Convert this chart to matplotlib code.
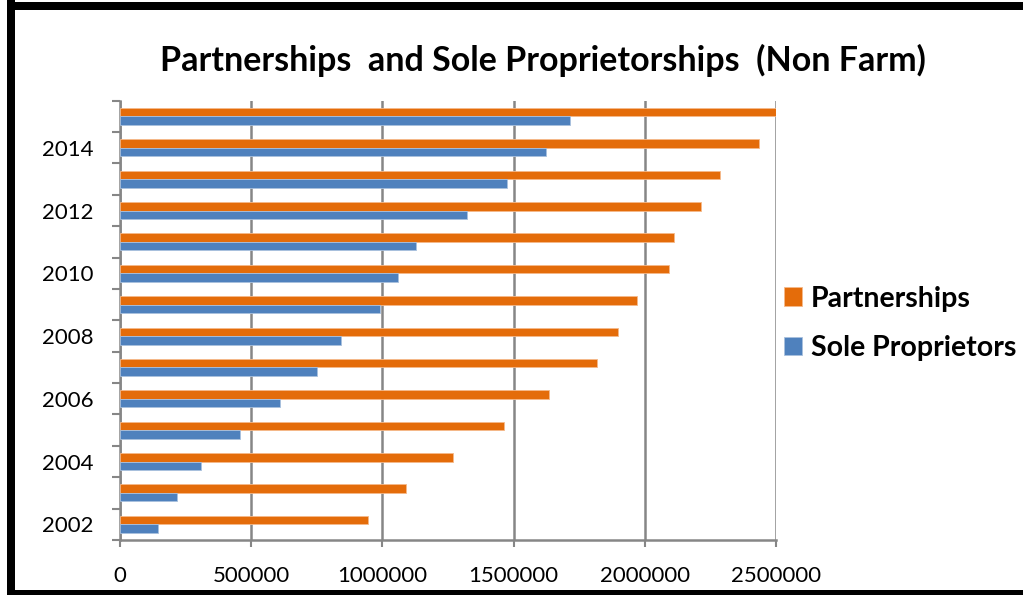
import numpy as np
import matplotlib
matplotlib.use("Agg")
import matplotlib.pyplot as plt
from matplotlib.patches import Rectangle

plt.rcParams["font.family"] = ["Lato", "DejaVu Sans"]

YEARS = list(range(2002, 2016))
PARTNERSHIPS = [944000, 1090000, 1269000, 1463000, 1634000, 1816000, 1896000,
                1969000, 2092000, 2111000, 2215000, 2288000, 2434000, 2511000]
SOLE_PROPRIETORS = [145000, 218000, 308000, 457000, 608000, 750000, 842000,
                    991000, 1060000, 1128000, 1322000, 1475000, 1622000, 1714000]
XTICKS = [0, 500000, 1000000, 1500000, 2000000, 2500000]

ORANGE = "#E46C0A"
BLUE = "#4F81BD"
GREY = "#868686"

fig = plt.figure(figsize=(10.23, 5.95), dpi=100)
ax = fig.add_axes([0.1173, 0.0924, 0.6413, 0.7384])

pos = np.arange(len(YEARS))
bar_h = 0.27
ax.barh(pos + bar_h / 2, PARTNERSHIPS, height=bar_h, color=ORANGE,
        edgecolor="#F5B98A", linewidth=0.6, label="Partnerships", zorder=3)
ax.barh(pos - bar_h / 2, SOLE_PROPRIETORS, height=bar_h, color=BLUE,
        edgecolor="#A9C1DE", linewidth=0.6, label="Sole Proprietors", zorder=3)

ax.set_xlim(0, 2500000)
ax.set_ylim(-0.5, len(YEARS) - 0.5)

ax.set_xticks(XTICKS)
ax.set_xticklabels([str(v) for v in XTICKS], fontsize=16)
ax.xaxis.grid(True, color=GREY, linewidth=1.8, zorder=0)
ax.tick_params(axis="x", length=5, width=1.5, color=GREY, pad=14)

# category boundaries get the tick marks, every other year gets a label
ax.set_yticks(np.arange(-0.5, len(YEARS), 1.0))
ax.set_yticklabels([])
ax.tick_params(axis="y", which="major", length=6, width=1.5, color=GREY)
ax.set_yticks(pos[::2], minor=True)
ax.set_yticklabels([str(y) for y in YEARS[::2]], minor=True, fontsize=16)
ax.tick_params(axis="y", which="minor", length=0, pad=19)

for side in ("top", "right"):
    ax.spines[side].set_visible(False)
for side in ("left", "bottom"):
    ax.spines[side].set_color(GREY)
    ax.spines[side].set_linewidth(1.8)

fig.text(543 / 1023, 1 - 60 / 595,
         "Partnerships  and Sole Proprietorships  (Non Farm)",
         ha="center", va="center", fontsize=24.5, fontweight="bold")

handles, labels = ax.get_legend_handles_labels()
fig.legend(handles, labels, loc="center left",
           bbox_to_anchor=(784 / 1023, 1 - 323.5 / 595), frameon=False,
           prop={"size": 20.5, "weight": "bold"}, handlelength=0.63,
           handleheight=0.63, handletextpad=0.32, labelspacing=0.82,
           borderpad=0, borderaxespad=0)

# heavy frame around the chart area
for x, y, w, h in [(7 / 1023, 0, 8 / 1023, 1), (7 / 1023, 1 - 10 / 595, 1, 8 / 595),
                   (7 / 1023, 0, 1, 5 / 595)]:
    fig.patches.append(Rectangle((x, y), w, h, transform=fig.transFigure,
                                 facecolor="black", edgecolor="none", zorder=10))

fig.savefig("out.png", dpi=100)
